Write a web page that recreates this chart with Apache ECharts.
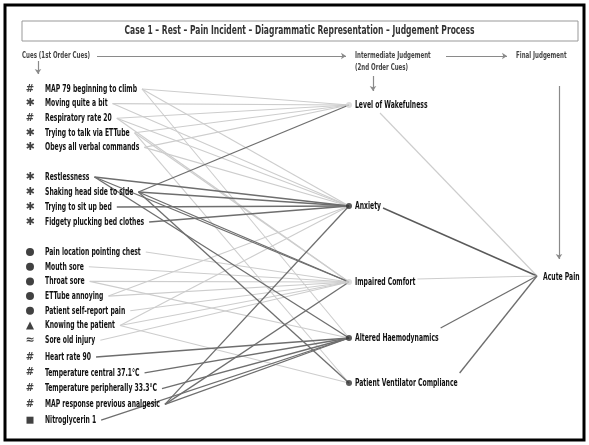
<!DOCTYPE html>
<html><head><meta charset="utf-8">
<script src="https://cdn.jsdelivr.net/npm/echarts@6/dist/echarts.min.js"></script>
<style>html,body{margin:0;padding:0;background:#fff}#chart{width:589px;height:445px}</style>
</head><body><div id="chart"></div>
<script>
// ---------------- data ----------------
const title = 'Case 1 – Rest – Pain Incident – Diagrammatic Representation – Judgement Process';
const stageHeaders = ['Cues (1st Order Cues)', 'Intermediate Judgement', '(2nd Order Cues)', 'Final Judgement'];
const cues = [
  'MAP 79 beginning to climb', 'Moving quite a bit', 'Respiratory rate 20', 'Trying to talk via ETTube', 'Obeys all verbal commands',
  'Restlessness', 'Shaking head side to side', 'Trying to sit up bed', 'Fidgety plucking bed clothes',
  'Pain location pointing chest', 'Mouth sore', 'Throat sore', 'ETTube annoying', 'Patient self-report pain', 'Knowing the patient', 'Sore old injury',
  'Heart rate 90', 'Temperature central 37.1°C', 'Temperature peripherally 33.3°C', 'MAP response previous analgesic', 'Nitroglycerin 1'
];
const cueMarks = ['#','✱','#','✱','✱', '✱','✱','✱','✱', '●','●','●','●','●','▲','≈', '#','#','#','#','■'];
const cueGroup = [0,0,0,0,0, 1,1,1,1, 2,2,2,2,2,2,2, 3,3,3,3,3];
const judgements = ['Level of Wakefulness', 'Anxiety', 'Impaired Comfort', 'Altered Haemodynamics', 'Patient Ventilator Compliance'];
const judgementStrength = [1, 2, 1, 2, 2];   // 1 = weak (light), 2 = strong (dark)
const finalJudgement = 'Acute Pain';
const finalLinkStrength = [1, 3, 1, 2, 2];   // judgement -> final judgement
// [cue index, judgement index, strength]
const cueLinks = [
  [0,0,1],[0,1,1],[0,3,1],
  [1,0,1],[1,1,1],
  [2,0,1],[2,1,1],[2,2,1],
  [3,0,1],[3,2,1],[3,4,1],
  [4,0,1],[4,1,1],
  [9,2,1],[10,2,1],[11,2,1],[11,3,1],
  [12,1,1],[12,2,1],
  [13,2,1],
  [14,1,1],[14,2,1],[14,4,1],
  [15,2,1],
  [5,1,2],[5,2,2],[5,3,2],
  [6,0,2],[6,1,2],[6,2,2],[6,4,2],
  [7,1,2],
  [8,1,2],
  [16,3,2],[17,3,2],[18,3,2],[19,3,2],[19,1,2],[19,2,2],[20,3,2]
];

// ---------------- layout ----------------
const W = 589, H = 445;
const FONT = "'DejaVu Sans Condensed','Liberation Sans Narrow','Noto Sans',sans-serif";
const ctx = document.createElement('canvas').getContext('2d');
function textW(t, fs, fw) { ctx.font = 'normal ' + (fw || 'normal') + ' ' + fs + 'px ' + FONT; return ctx.measureText(t).width; }

const LBL = {fs: 11, fw: 'bold', color: '#111'};
LBL.scale = 92 / textW(cues[0], LBL.fs, LBL.fw);
const HEAD = {fs: 9, fw: 'bold', color: '#444'};
HEAD.scale = 68 / textW(stageHeaders[0], HEAD.fs, HEAD.fw);
const TTL = {fs: 12.5, fw: 'bold', color: '#333'};
TTL.scale = 350 / textW(title, TTL.fs, TTL.fw);

const L = {
  markX: 30, textX: 45, judgeX: 349, finalX: 537, finalY: 276,
  groupTop: [89, 177, 252, 357], groupStep: [14.6, 15, 14.7, 15.8],
  judgeY: [105, 206, 282, 338, 383]
};
const shade = {1: '#cdcdcd', 2: '#6e6e6e', 3: '#5a5a5a'};
const lw = {1: 1.1, 2: 1.3, 3: 1.4};

const groupCounter = {};
const cueY = cues.map((c, i) => {
  const g = cueGroup[i];
  const k = groupCounter[g] = (groupCounter[g] === undefined ? 0 : groupCounter[g] + 1);
  return L.groupTop[g] + k * L.groupStep[g];
});
const lblW = t => textW(t, LBL.fs, LBL.fw) * LBL.scale;
const cueEndX = cues.map(c => L.textX + lblW(c) + 5);

const linkData = cueLinks.slice().sort((a, b) => a[2] - b[2]).map(([c, j, s]) => ({
  coords: [[cueEndX[c], cueY[c]], [L.judgeX, L.judgeY[j]]],
  lineStyle: {color: shade[s], width: lw[s]}
}));

const finalData = judgements.map((name, j) => {
  const x0 = L.judgeX, y0 = L.judgeY[j];
  const dy = L.finalY - y0;
  const labelEnd = x0 + 6 + lblW(name);
  let start;
  if (dy > 100) start = [x0 + 31, y0 + 8];
  else start = [labelEnd + 2, y0 + (dy < 0 ? Math.max(-10, dy * 0.5) : Math.min(2, dy))];
  return {
    coords: [start, [L.finalX, L.finalY]],
    lineStyle: {color: shade[finalLinkStrength[j]], width: lw[finalLinkStrength[j]]}
  };
});

const shapeSymbol = {'●': 'circle', '▲': 'triangle', '■': 'rect'};
const shapeSize = {'●': 8, '▲': 8, '■': 7};

const chart = echarts.init(document.getElementById('chart'), null, {renderer: 'canvas'});
chart.setOption({
  animation: false,
  backgroundColor: '#fff',
  grid: {left: 0, right: 0, top: 0, bottom: 0},
  xAxis: {type: 'value', min: 0, max: W, show: false},
  yAxis: {type: 'value', min: 0, max: H, inverse: true, show: false},
  series: [
    {
      type: 'lines', coordinateSystem: 'cartesian2d', silent: true, z: 1,
      symbol: ['none', 'arrow'], symbolSize: 5,
      lineStyle: {color: '#8a8a8a', width: 1.2, opacity: 1},
      data: [
        {coords: [[97, 56], [346, 56]]},
        {coords: [[446, 56], [507, 56]]},
        {coords: [[38, 61], [38, 74]]},
        {coords: [[373, 76], [373, 91]]},
        {coords: [[559, 86], [559, 259]]}
      ]
    },
    {type: 'lines', coordinateSystem: 'cartesian2d', silent: true, z: 2, lineStyle: {opacity: 1}, data: linkData},
    {type: 'lines', coordinateSystem: 'cartesian2d', silent: true, z: 2, lineStyle: {opacity: 1}, data: finalData},
    {
      type: 'scatter', silent: true, z: 5,
      data: cues.map((c, i) => ({
        value: [L.markX, cueY[i]],
        symbol: shapeSymbol[cueMarks[i]] || 'circle',
        symbolSize: shapeSize[cueMarks[i]] || 1,
        itemStyle: {color: shapeSymbol[cueMarks[i]] ? '#111' : 'rgba(0,0,0,0)'},
        label: {
          show: !shapeSymbol[cueMarks[i]], position: 'inside', formatter: cueMarks[i],
          color: '#111', fontSize: cueMarks[i] === '#' ? 10 : 11, fontWeight: 'bold',
          fontFamily: "'DejaVu Sans',sans-serif"
        }
      }))
    },
    {
      type: 'scatter', silent: true, z: 6, symbolSize: 6,
      data: judgements.map((j, i) => ({name: j, value: [L.judgeX, L.judgeY[i]], itemStyle: {color: judgementStrength[i] === 2 ? '#333' : '#d4d4d4'}}))
    }
  ]
});

// text labels, placed through the grid's scales, horizontally condensed
function px(x, y) { return chart.convertToPixel({gridIndex: 0}, [x, y]); }
function label(text, x, y, st, extra) {
  const p = px(x, y);
  return Object.assign({
    type: 'text', x: p[0], y: p[1], scaleX: st.scale, silent: true, z: 10,
    style: {text: text, fill: st.color, font: 'normal ' + st.fw + ' ' + st.fs + 'px ' + FONT, align: 'left', verticalAlign: 'middle'}
  }, extra || {});
}
const graphics = [
  {type: 'rect', shape: {x: 5, y: 5, width: 579, height: 435}, style: {fill: 'none', stroke: '#000', lineWidth: 3}, silent: true},
  {type: 'rect', shape: {x: 22, y: 21, width: 556, height: 20}, style: {fill: 'none', stroke: '#999', lineWidth: 1}, silent: true}
];
const tp = px(W / 2 + 5, 31);
graphics.push({type: 'text', x: tp[0], y: tp[1], scaleX: TTL.scale, silent: true,
  style: {text: title, fill: TTL.color, font: 'normal ' + TTL.fw + ' ' + TTL.fs + 'px ' + FONT, align: 'center', verticalAlign: 'middle'}});
graphics.push(label(stageHeaders[0], 22, 56, HEAD));
graphics.push(label(stageHeaders[1], 355, 56, HEAD));
graphics.push(label(stageHeaders[2], 355, 68, HEAD));
graphics.push(label(stageHeaders[3], 516, 56, HEAD));
cues.forEach((c, i) => graphics.push(label(c, L.textX, cueY[i], LBL)));
judgements.forEach((j, i) => graphics.push(label(j, L.judgeX + 6, L.judgeY[i], LBL)));
graphics.push(label(finalJudgement, L.finalX + 6, L.finalY + 1, LBL));
chart.setOption({graphic: graphics});
</script></body></html>
